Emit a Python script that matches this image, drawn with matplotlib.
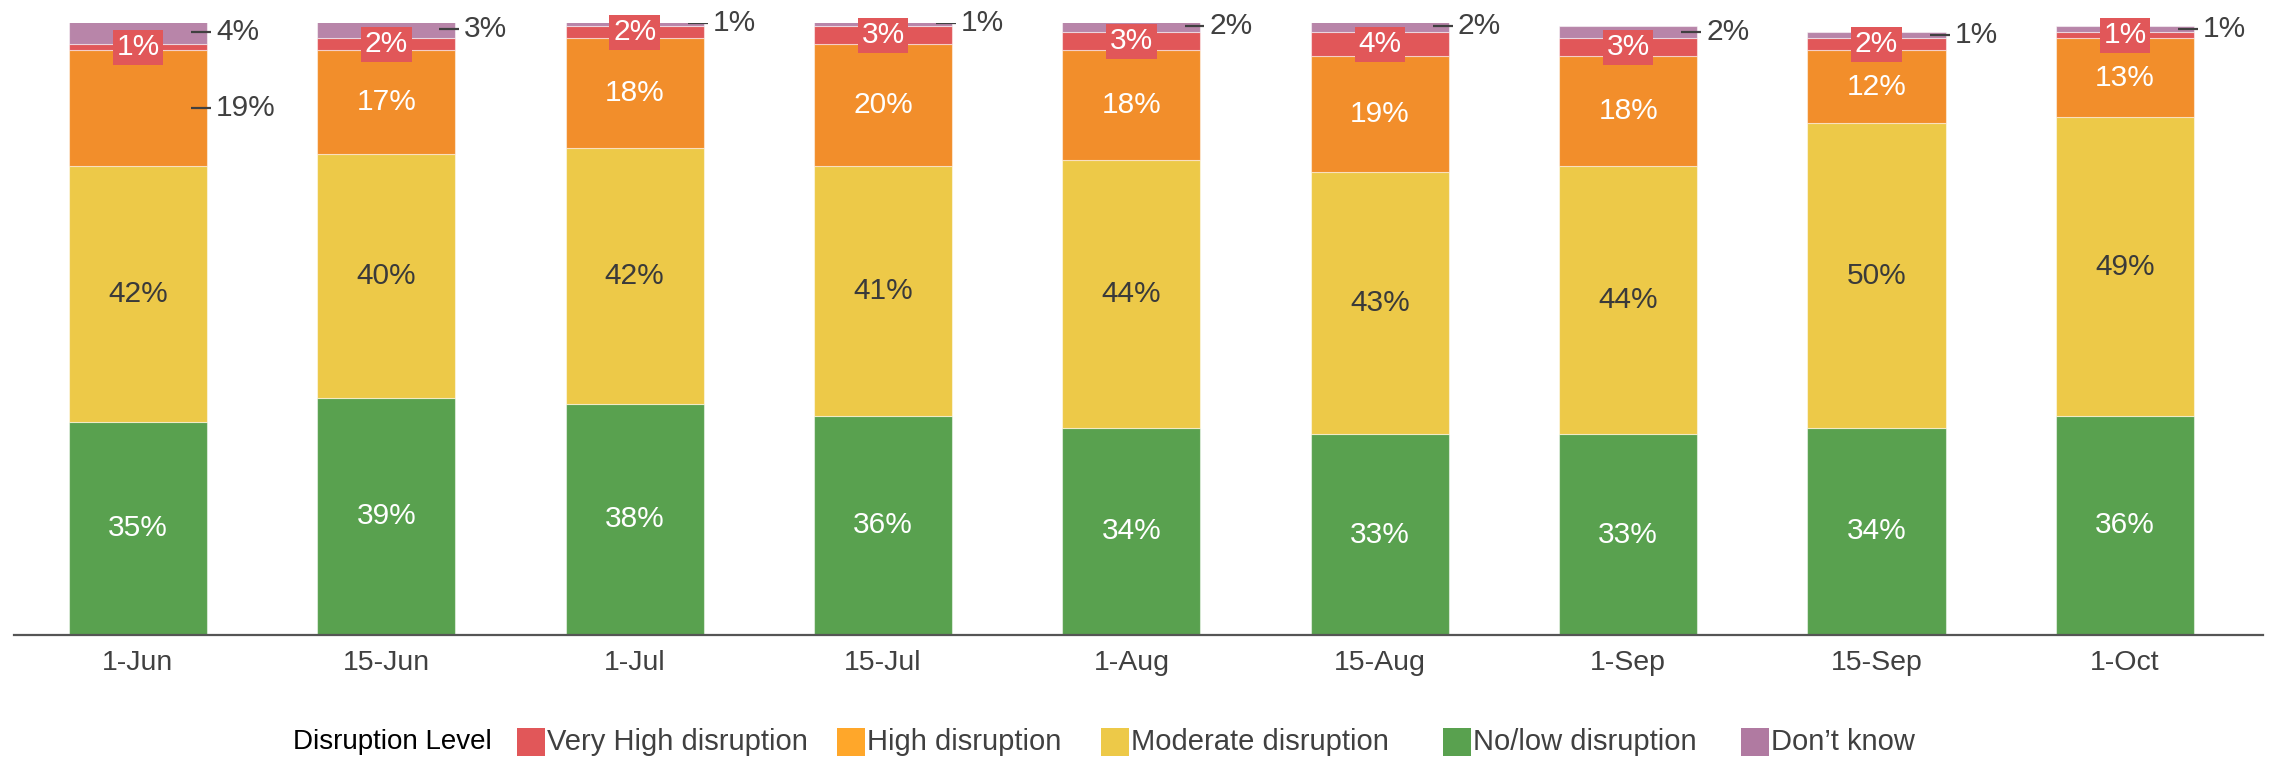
import matplotlib
matplotlib.use('Agg')
import matplotlib.pyplot as plt
from matplotlib.patches import Rectangle
import numpy as np

plt.rcParams['font.family'] = ['Liberation Sans', 'DejaVu Sans']

# ---------------- data ----------------
dates = ['1-Jun', '15-Jun', '1-Jul', '15-Jul', '1-Aug', '15-Aug', '1-Sep', '15-Sep', '1-Oct']
no_low = [35, 39, 38, 36, 34, 33, 33, 34, 36]
moderate = [42, 40, 42, 41, 44, 43, 44, 50, 49]
high = [19, 17, 18, 20, 18, 19, 18, 12, 13]
very_high = [1, 2, 2, 3, 3, 4, 3, 2, 1]
dont_know = [4, 3, 1, 1, 2, 2, 2, 1, 1]

legend_title = 'Disruption Level'
legend_names = ['Very High disruption', 'High disruption', 'Moderate disruption',
                'No/low disruption', 'Don\u2019t know']

# ---------------- style ----------------
c_green = '#59A14F'
c_yellow = '#EDC948'
c_orange = '#F28E2B'
c_red = '#E15759'
c_purple = '#B885A9'
legend_colors = ['#E15759', '#FFA72A', '#EDC948', '#59A14F', '#B07AA1']
dark = '#404040'

W, H = 2270, 762
fig = plt.figure(figsize=(W / 100, H / 100), dpi=100)
ax = fig.add_axes([14 / W, 1 - 635 / H, (2263 - 14) / W, (635 - 23) / H])

x = np.arange(len(dates))
bw = 0.556
series = [(no_low, c_green), (moderate, c_yellow), (high, c_orange),
          (very_high, c_red), (dont_know, c_purple)]
bottom = np.zeros(len(dates))
bottoms = []
for vals, col in series:
    v = np.array(vals, dtype=float)
    ax.bar(x, v, bw, bottom=bottom, color=col, edgecolor=(1, 1, 1, 0.5), linewidth=0.8)
    bottoms.append(bottom.copy())
    bottom = bottom + v

ax.set_xlim(-0.499, 8.556)
ax.set_ylim(0, 100.5)
for s in ['top', 'right', 'left']:
    ax.spines[s].set_visible(False)
ax.spines['bottom'].set_color('#555555')
ax.spines['bottom'].set_linewidth(1.6)
ax.set_yticks([])
ax.set_xticks(x)
ax.set_xticklabels(dates)
ax.tick_params(axis='x', length=0, pad=11, labelsize=20.5, labelcolor=dark)

fs = 21.5


def outside(i, yc, txt):
    right = x[i] + bw / 2
    ax.plot([right - 0.064, right + 0.016], [yc, yc], color=dark, lw=1.6,
            solid_capstyle='butt')
    ax.text(right + 0.036, yc, txt, ha='left', va='center', color=dark, fontsize=fs)


for i in range(len(dates)):
    # green
    b, v = bottoms[0][i], no_low[i]
    ax.text(x[i], b + v / 2, f'{v}%', ha='center', va='center', color='white', fontsize=fs)
    # yellow
    b, v = bottoms[1][i], moderate[i]
    ax.text(x[i], b + v / 2, f'{v}%', ha='center', va='center', color='#3a3a3a', fontsize=fs)
    # orange
    b, v = bottoms[2][i], high[i]
    if i == 0:
        outside(i, b + v / 2, f'{v}%')
    else:
        ax.text(x[i], b + v / 2, f'{v}%', ha='center', va='center', color='white', fontsize=fs)
    # red
    b, v = bottoms[3][i], very_high[i]
    ax.text(x[i], b + v / 2, f'{v}%', ha='center', va='center', color='white', fontsize=fs,
            bbox=dict(boxstyle='square,pad=0.12', facecolor=c_red, edgecolor='none'))
    # purple
    b, v = bottoms[4][i], dont_know[i]
    outside(i, b + v / 2, f'{v}%')

# ---------------- legend ----------------
ly = 742
fig.text(492 / W, 1 - ly / H, legend_title, ha='right', va='center', fontsize=20,
         color='black')
patch_x = [517, 837, 1101, 1443, 1741]
for px, name, col in zip(patch_x, legend_names, legend_colors):
    fig.add_artist(Rectangle((px / W, 1 - 756 / H), 28 / W, 28 / H,
                             transform=fig.transFigure, facecolor=col, edgecolor='none'))
    fig.text((px + 30) / W, 1 - ly / H, name, ha='left', va='center', fontsize=21,
             color=dark)

fig.savefig('out.png', dpi=100)
